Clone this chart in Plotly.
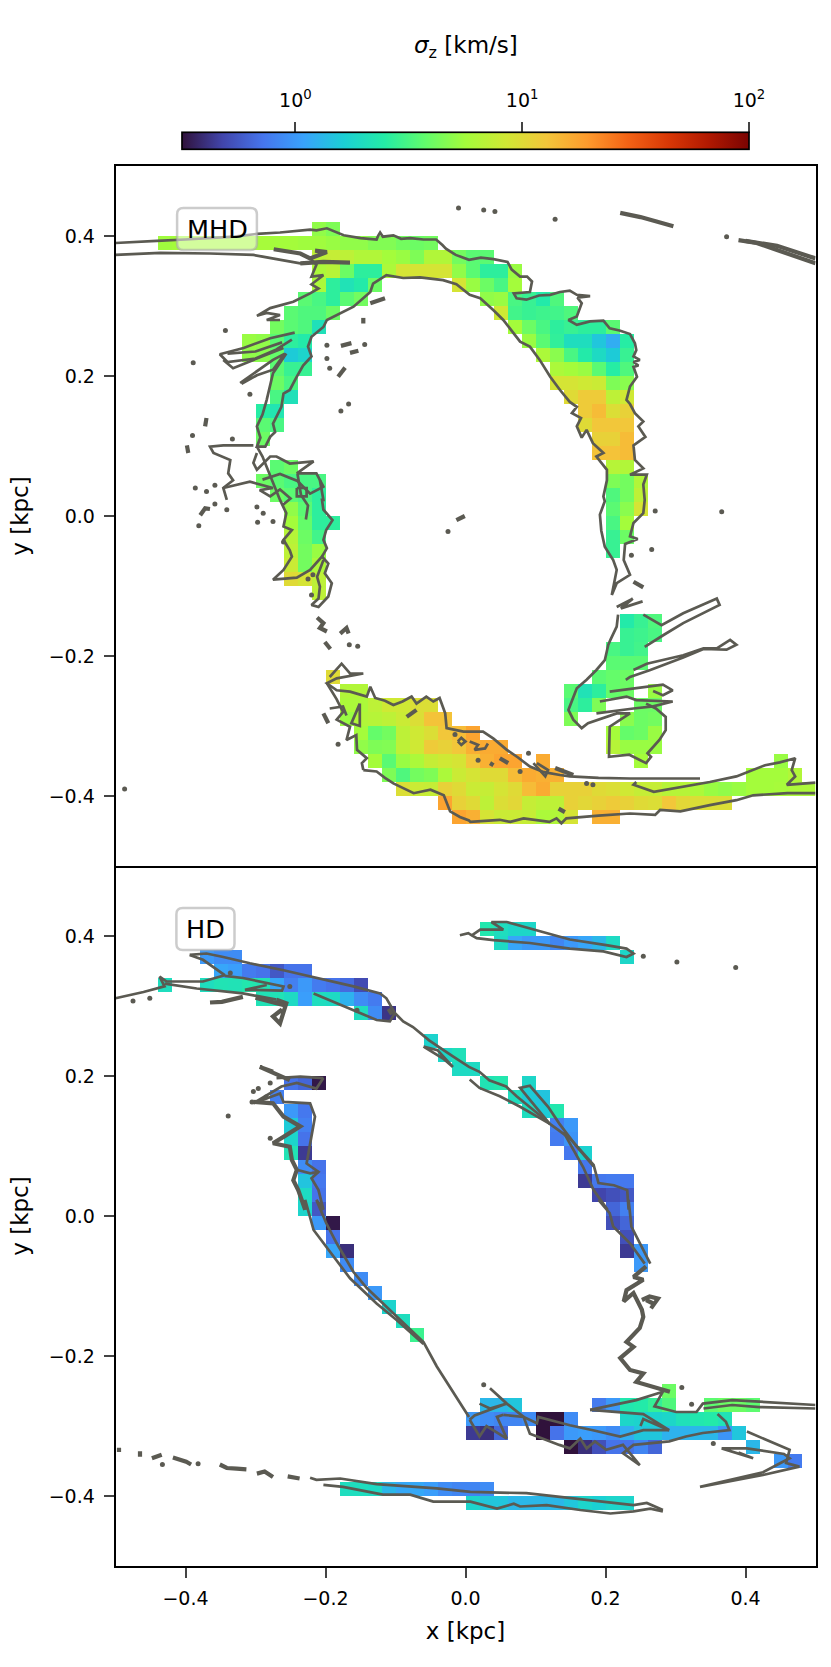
import numpy as np
import plotly.graph_objects as go
from plotly.subplots import make_subplots

# grid cells: (top edge of row in pc, left edge of first cell in pc, log10 sigma_z per cell)
mhd_cells = [
    (420, -220, [.7, .65]),
    (400, -440, [.74, .75, .76, .76, .76, .76, .76, .76, .75, .75, .74, .74, .72, .7, .7, .66, .66, .62, .6, .62]),
    (380, -220, [.85, .88, .85, .8, .8, .75, .72, .65, .8, .8, .62, .55, .55]),
    (360, -220, [.78, .82, .6, .42, .42, .78, .95, .95, .95, .95, .7, .55, .42, .42, .72]),
    (340, -220, [.78, .42, .33, .38, .6]),
    (340, -20, [.95, .72, .6, .5, .75]),
    (320, -240, [.55, .5, .42, .55, .62]),
    (320, 20, [.7, .72, .5, .45, .38, .52]),
    (300, -260, [.55, .52, .52, .6]),
    (300, 40, [.92, .48, .45, .47, .48, .52]),
    (280, -280, [.62, .55, .52, .32]),
    (280, 60, [.75, .6, .5, .42, .45, .42, .42, .55]),
    (260, -320, [.72, .7, .55, .42, .38]),
    (260, 80, [.72, .55, .43, .3, .3, .18, .08, .4]),
    (240, -320, [.7, .68, .58, .2, .25]),
    (240, 100, [.78, .68, .5, .38, .28, .2, .45]),
    (220, -280, [.55, .45, .45]),
    (220, 120, [.78, .75, .72, .55, .4, .52]),
    (200, -280, [.6, .5]),
    (200, 120, [.95, .95, .92, .9, .65, .68]),
    (180, -280, [.5, .32]),
    (180, 140, [1.0, 1.08, 1.08, .85, .92]),
    (160, -300, [.4, .35]),
    (160, 160, [1.08, 1.15, .98, 1.05]),
    (140, -300, [.55, .5]),
    (140, 160, [1.0, 1.1, 1.1, 1.1]),
    (120, -300, [.6]),
    (120, 180, [1.05, 1.05, 1.15]),
    (100, 180, [1.12, 1.12, 1.15]),
    (80, -280, [.55, .6]),
    (80, 200, [.82, .8]),
    (60, -300, [.6, .55, .5, .5, .5]),
    (60, 200, [.65, .62, .8]),
    (40, -280, [.6, .55, .5, .42]),
    (40, 200, [.52, .62, .85]),
    (20, -260, [.7, .55, .42]),
    (20, 200, [.55, .68, .95]),
    (0, -260, [.75, .58, .42, .42]),
    (0, 200, [.5, .75]),
    (-20, -260, [.82, .6, .48]),
    (-20, 200, [.45, .6]),
    (-40, -260, [.85, .62, .72]),
    (-40, 200, [.45]),
    (-60, -260, [.9, .62, .78]),
    (-80, -260, [1.0, .95, .85]),
    (-100, -220, [.85]),
    (-140, 220, [.38, .45, .52]),
    (-160, 220, [.45, .47, .5]),
    (-180, 200, [.5, .45, .48]),
    (-200, 200, [.55, .55, .55]),
    (-220, 180, [.55, .58, .6]),
    (-220, -200, [1.0]),
    (-240, 140, [.55, .33, .42, .58, .6, None, .72]),
    (-240, -180, [.8, .8]),
    (-260, 140, [.5, .42, .65, None, None, .6, .6]),
    (-260, -180, [.78, .78, .85, .92, .92, .98, .98]),
    (-280, 140, [.65, None, None, None, .68, .6, .62]),
    (-280, -180, [.72, .8, .82, .85, .9, .98, 1.12, 1.12]),
    (-300, 200, [.75, .58, .6, .72]),
    (-300, -160, [.75, .58, .62, .85, .92, .98, 1.1, 1.15, 1.25]),
    (-320, 200, [.82, .72, .72, .72]),
    (-320, -160, [.7, .65, .66, .85, .92, 1.08, 1.05, 1.1, 1.2, 1.22, 1.22]),
    (-340, 240, [.75]),
    (-340, 440, [.72]),
    (-340, -140, [.75, .55, .72, .78, .88, .92, .95, 1.1, 1.2, 1.25, 1.25, None, 1.22]),
    (-360, -120, [.65, .52, .62, .65, .78, .9, .95, 1.0, 1.0, 1.15, 1.22, 1.2, 1.2]),
    (-360, 400, [.75, .75, .75, .8]),
    (-380, -100, [.98, .9, .88, 1.05, 1.0, .9, .88, .95, 1.0, 1.15, 1.22, 1.05, 1.05, 1.05, 1.0, .98, .92, .88,
                  .88, .82, .82, .78, .72, .7, .72, .75, .75, .76, .78, .78]),
    (-400, -40, [1.25, 1.05, 1.0, .85, .98, 1.02, .88, .85, .85, 1.05, 1.02, 1.05, 1.08, 1.05, 1.0, .98, 1.1,
                 1.02, .98, .98, .98]),
    (-420, -20, [1.25, 1.2, .95, .9, .9, .88, .78, .8, .95, None, 1.2, 1.2]),
]

hd_cells = [
    (420, 20, [.36, .3, .26, .26]),
    (400, 40, [.28, .05, 0, 0, -.08, 0, .05, .12, .28]),
    (380, -380, [0, -.05, -.05]),
    (380, 220, [.26]),
    (360, -360, [.05, .02, -.12, -.15, -.25, -.15, -.15]),
    (340, -440, [.3]),
    (340, -380, [.3, .34, .33, .36, .34, .05, -.1, 0, -.12, -.15, -.18, -.3]),
    (320, -300, [.33, .33, .28, .02, .3, .28, .1, -.05, -.12]),
    (300, -160, [.3, -.05, -.38]),
    (260, -60, [.24]),
    (240, -40, [.26, .32]),
    (220, -20, [.28, .28]),
    (200, -260, [-.15, -.2, -.48]),
    (200, 20, [.34, .36, None, .26]),
    (180, -280, [-.1]),
    (180, 60, [.3, .2, .17]),
    (160, -260, [0, -.13]),
    (160, 80, [.3, .2, .36]),
    (140, -260, [.2, -.1]),
    (140, 120, [-.1, 0]),
    (120, -260, [.25, -.15]),
    (120, 120, [-.12, -.02]),
    (100, -260, [.34, -.36]),
    (100, 140, [-.13, .23]),
    (80, -240, [-.05, -.15]),
    (80, 160, [-.13]),
    (60, -240, [.17, -.13]),
    (60, 160, [-.36, -.13, -.12, -.13]),
    (40, -240, [.28, -.15]),
    (40, 180, [-.32, -.28, -.25]),
    (20, -240, [.25, -.25]),
    (20, 200, [-.2, -.1]),
    (0, -220, [0, -.48]),
    (0, 200, [-.28, -.2]),
    (-20, -200, [-.15]),
    (-20, 220, [-.28]),
    (-40, -200, [.05, -.4]),
    (-40, 220, [-.36, 0]),
    (-60, -180, [-.05]),
    (-60, 240, [0]),
    (-80, -160, [-.05]),
    (-100, -140, [0]),
    (-120, -120, [.24]),
    (-140, -100, [.3]),
    (-160, -80, [.46]),
    (-240, 280, [.6]),
    (-260, 20, [.12, .12, .18]),
    (-260, 180, [-.12, 0, .36, .38, .44, .52]),
    (-260, 340, [.56, .6, .6, .56]),
    (-280, 0, [0, -.05, -.08, -.08, -.05, -.5, -.5, -.05]),
    (-280, 220, [.26, .24, .24, .26, .32, .36, .38, .33]),
    (-300, 0, [-.36, -.4, -.2]),
    (-300, 100, [-.5, -.15, 0, .02, 0, -.05, .08, .18, .18, .1, .1, .12, .12, -.02, .18]),
    (-320, 140, [-.5, -.4, -.28, -.15, -.15, -.08, -.2]),
    (-320, 400, [.12]),
    (-340, 440, [0, -.12]),
    (-380, -180, [.3, .3, .28, .12, .06, .06, .02, -.05, -.08, -.08, -.05]),
    (-400, 0, [.25, .18, .18, .12, .12, .12, .12, .18, .25, .22, .25, .25]),
]

# contour traces in pc
mhd_lines = [
    [(-500, 390), (-470, 391), (-441, 393), (-400, 395), (-365, 397), (-330, 399), (-298, 403), (-265, 405),
     (-222, 409), (-213, 408), (-198, 411), (-188, 407), (-174, 401), (-150, 397), (-127, 395), (-125, 400),
     (-122, 405), (-118, 399), (-103, 401), (-92, 396), (-79, 397), (-60, 395), (-42, 395), (-33, 387), (-28, 382),
     (-14, 373), (5, 366), (22, 369), (40, 367), (60, 363), (66, 352), (78, 342), (88, 342), (95, 335), (92, 320),
     (69, 318), (73, 311), (87, 309), (105, 315), (121, 316), (135, 320), (149, 322), (159, 316), (178, 314),
     (160, 312), (166, 304), (159, 285), (147, 280), (159, 273), (178, 278), (197, 279), (206, 268), (220, 265),
     (235, 260), (242, 247), (244, 237), (240, 228), (249, 223), (240, 220), (247, 215), (240, 213), (245, 199),
     (235, 185), (230, 166), (235, 160), (242, 147), (254, 135), (247, 128), (257, 113), (240, 101), (242, 80),
     (254, 68), (235, 59), (259, 59), (254, 45), (256, 23), (254, 4), (240, -10), (235, -29), (246, -33), (228, -40),
     (226, -63), (235, -84), (216, -96), (209, -113), (216, -77), (211, -63), (199, -44), (194, -21), (192, 2),
     (199, 21), (197, 28), (202, 51), (202, 66), (187, 85), (197, 90), (182, 104), (173, 123), (166, 112), (159, 128),
     (165, 140), (152, 147), (159, 156), (149, 163), (135, 180), (121, 199), (106, 223), (92, 242), (78, 249),
     (54, 280), (40, 294), (21, 311), (6, 316), (-13, 331), (-32, 337), (-65, 341), (-89, 340), (-113, 344),
     (-132, 332), (-136, 320), (-160, 299), (-198, 280), (-203, 270), (-220, 256), (-225, 242), (-220, 228),
     (-232, 215), (-241, 199), (-251, 180), (-260, 175), (-263, 156), (-275, 132), (-272, 120), (-279, 113),
     (-286, 99), (-298, 99), (-293, 112), (-298, 128), (-290, 145), (-284, 166), (-280, 185), (-275, 204),
     (-256, 232)],
    [(-500, 373), (-436, 376), (-365, 375), (-303, 373), (-270, 367), (-236, 361), (-203, 363), (-165, 362)],
    [(-222, 368), (-213, 359), (-220, 342), (-203, 344), (-220, 331), (-210, 325), (-222, 318), (-246, 306),
     (-279, 297), (-298, 286), (-284, 290), (-265, 287), (-284, 280), (-265, 280)],
    [(-244, 262), (-279, 254), (-317, 240), (-351, 231), (-340, 220), (-300, 225), (-270, 238), (-248, 252)],
    [(-346, 223), (-332, 211), (-303, 223), (-260, 240)],
    [(-340, 232), (-300, 235), (-262, 248)],
    [(-322, 190), (-294, 209), (-275, 223), (-258, 232), (-275, 209), (-298, 201), (-320, 189)],
    [(-303, 101), (-327, 101), (-346, 101), (-365, 99), (-360, 90), (-336, 80), (-339, 61), (-332, 51), (-346, 40),
     (-341, 23)],
    [(-298, 90), (-303, 76), (-298, 66), (-279, 85), (-270, 85), (-251, 75), (-217, 78), (-241, 61), (-213, 61),
     (-203, 42), (-222, 32), (-240, 50), (-265, 60), (-290, 52)],
    [(-346, 40), (-308, 49), (-275, 40), (-294, 37), (-279, 28), (-265, 38), (-250, 25), (-262, 15)],
    [(-241, 40), (-227, 40), (-227, 28), (-241, 28), (-241, 40)],
    [(-298, 99), (-290, 85), (-265, 23), (-256, 4), (-260, -15), (-248, -20), (-260, -34), (-251, -49), (-248, -58),
     (-260, -77), (-275, -91), (-241, -88), (-222, -77), (-205, -58), (-196, -68), (-201, -82), (-191, -96),
     (-196, -115), (-210, -130), (-220, -127), (-210, -118), (-208, -101), (-212, -87), (-203, -63)],
    [(-208, 51), (-203, 23), (-205, 23), (-203, 9), (-190, -6), (-199, -20), (-203, -34), (-198, -46), (-205, -58)],
    [(-240, 60), (-235, 30), (-225, 15), (-228, -5)],
    [(-194, -230), (-177, -211), (-165, -225), (-146, -225), (-184, -232), (-198, -239), (-184, -249), (-165, -251),
     (-141, -258), (-136, -244), (-129, -260), (-115, -264), (-103, -270), (-90, -265), (-77, -258), (-70, -268),
     (-56, -258), (-46, -265), (-37, -260), (-29, -282), (-27, -303), (-3, -308), (25, -308), (40, -318), (59, -334),
     (75, -345), (92, -358), (112, -366), (135, -370), (149, -372), (190, -374), (235, -375), (335, -375)],
    [(244, -380), (240, -384), (269, -394), (311, -387), (349, -380), (387, -372), (411, -363), (428, -356),
     (449, -352), (471, -346), (466, -363), (471, -372), (459, -384), (500, -381)],
    [(-146, -363), (-127, -365), (-115, -374), (-103, -382), (-74, -396), (-62, -393), (-50, -391), (-31, -399),
     (-22, -422), (-8, -430), (5, -435), (7, -437), (49, -434), (64, -437), (83, -432), (120, -437), (130, -432),
     (137, -439), (144, -432), (190, -428), (235, -425), (271, -427), (278, -420), (307, -422), (349, -413),
     (387, -406), (411, -399), (460, -396), (500, -396)],
    [(-146, -363), (-148, -353), (-141, -346), (-155, -334), (-156, -313), (-170, -320), (-165, -301), (-184, -291),
     (-175, -280), (-184, -262), (-198, -239)],
    [(-194, -275), (-175, -272), (-170, -285)],
    [(-151, -268), (-163, -296), (-151, -300), (-151, -268)],
    [(-11, -322), (-6, -317), (0, -322), (-6, -327), (-11, -322)],
    [(6, -322), (18, -327), (13, -334), (28, -332), (32, -325)],
    [(97, -353), (114, -372), (118, -363), (102, -353)],
    [(216, -130), (239, -118), (222, -132), (253, -122)],
    [(218, -141), (216, -158), (207, -177), (204, -184), (199, -206), (187, -220), (173, -234), (159, -246),
     (147, -277), (154, -291), (166, -303), (175, -296), (216, -282), (235, -282), (206, -301), (205, -344),
     (234, -341), (258, -353), (265, -344), (260, -339), (277, -320), (286, -306), (286, -287), (272, -275),
     (258, -268)],
    [(254, -141), (280, -156), (311, -139), (359, -118), (363, -127), (311, -153), (283, -170), (256, -187)],
    [(240, -220), (259, -211), (311, -199), (340, -189), (359, -189), (378, -177), (387, -184), (373, -191),
     (340, -190), (311, -202), (264, -220), (235, -230), (229, -234)],
    [(206, -251), (282, -241), (296, -249), (282, -256), (268, -250)],
    [(192, -265), (230, -258), (244, -263), (296, -265), (268, -272), (240, -275), (187, -282)],
]

mhd_streaks = [
    [(221, 433), (250, 427), (297, 414)],
    [(390, 394), (416, 390), (445, 380), (500, 361)],
    [(400, 393), (445, 386), (500, 368)],
    [(-274, 381), (-255, 378), (-236, 375), (-222, 368), (-198, 377), (-215, 379)],
    [(-236, 361), (-203, 363), (-165, 362)],
    [(-136, 304), (-115, 311)],
    [(-178, 243), (-163, 247)],
    [(-165, 233), (-153, 236)],
    [(-182, 199), (-177, 206), (-172, 212)],
    [(-212, -145), (-203, -153), (-208, -160), (-198, -165)],
    [(-179, -168), (-170, -160), (-167, -168)],
    [(-201, -180), (-193, -190)],
    [(-13, -6), (-1, 0)],
    [(240, -94), (254, -102)],
    [(-203, -282), (-196, -296)],
    [(-84, -287), (-70, -277)],
    [(35, -353), (40, -356)],
    [(49, -346), (61, -353)],
    [(128, -360), (154, -370)],
    [(133, -418), (142, -423)],
    [(-372, 128), (-370, 140)],
    [(-398, 101), (-396, 90)],
    [(-379, 1), (-372, 11), (-365, 10)],
    [(-146, 275), (-146, 283)],
]

mhd_dots = [
    (-10, 440), (26, 437), (42, 435), (128, 424), (373, 399), (-343, 265), (-389, 219), (-308, 174), (-178, 150),
    (-167, 160), (-198, 244), (-144, 245), (-198, 225), (-194, 211), (-390, 115), (-333, 110), (-386, 40), (-370, 35),
    (-358, 44), (-381, -14), (-358, 17), (-341, 9), (-298, 13), (-289, 4), (-297, -9), (-275, -8), (-260, -37),
    (-218, -84), (-225, -90), (-220, -113), (-487, -390), (-166, -184), (-154, -186), (-182, -326), (-15, -312),
    (18, -349), (78, -365), (90, -339), (173, -382), (182, -384), (266, -48), (271, 7), (237, -56), (366, 6),
    (-25, -22),
]

hd_lines = [
    [(-394, 373), (-370, 375), (-346, 370), (-308, 361), (-260, 351), (-213, 340), (-160, 328), (-122, 318),
     (-113, 311), (-101, 290), (-89, 278), (-75, 270), (-52, 251), (-18, 228), (5, 213), (20, 206), (34, 194),
     (58, 185), (73, 171), (111, 140), (120, 132), (149, 111), (183, 73), (190, 47), (212, 44), (231, 37), (233, 9),
     (233, 23), (237, -15), (249, -39), (264, -68)],
    [(-394, 373), (-375, 366), (-344, 344), (-375, 335), (-427, 335), (-437, 342), (-430, 328), (-460, 320),
     (-500, 311)],
    [(-344, 343), (-318, 340), (-260, 328), (-262, 322), (-303, 323), (-315, 323), (-284, 330)],
    [(-430, 332), (-384, 325), (-318, 318), (-270, 309)],
    [(-217, 318), (-175, 301), (-160, 294), (-127, 280), (-108, 278), (-101, 290)],
    [(-60, 242), (-32, 225), (-18, 213), (-40, 237), (-60, 242)],
    [(-8, 401), (4, 404), (9, 401), (21, 409), (54, 409), (37, 420), (59, 420), (97, 409), (149, 395), (201, 387),
     (230, 382), (240, 375), (230, 370), (197, 378), (149, 382), (92, 390), (40, 394), (16, 397), (9, 401)],
    [(120, 132), (78, 183), (92, 186), (118, 156), (134, 132), (159, 99), (183, 71)],
    [(6, 195), (20, 183), (49, 171), (78, 156), (120, 132)],
    [(140, 120), (168, 70), (183, 37), (203, 9), (190, 23), (206, 4), (211, -15), (235, -39), (256, -68)],
    [(178, -277), (221, -268), (244, -263), (282, -251), (270, -272), (301, -280), (330, -280), (339, -268),
     (381, -263), (500, -270)],
    [(178, -277), (254, -283), (291, -306), (254, -290), (250, -300)],
    [(340, -275), (381, -270), (420, -273), (500, -275)],
    [(35, -246), (59, -268), (83, -287), (102, -296), (104, -287), (149, -299), (182, -306), (221, -315), (254, -306),
     (291, -306)],
    [(54, -284), (83, -287), (92, -311), (120, -322), (134, -327), (149, -332), (164, -318), (173, -332), (185, -322),
     (201, -334), (225, -327), (249, -356), (225, -339), (240, -327), (291, -322), (315, -315), (339, -310),
     (377, -306), (372, -294), (360, -283)],
    [(402, -308), (463, -334), (458, -353), (477, -358), (425, -370), (344, -386), (335, -387), (425, -366),
     (463, -346), (455, -340), (402, -332), (366, -332), (411, -346), (390, -338)],
    [(6, -291), (20, -315), (30, -300), (59, -318), (45, -287), (54, -284)],
    [(20, -268), (35, -275), (59, -268), (13, -285), (6, -291)],
    [(-203, 197), (-213, 182), (-241, 190), (-263, 185), (-303, 161), (-265, 175), (-260, 163), (-222, 161),
     (-215, 142), (-220, 113), (-227, 75), (-210, 63), (-220, 54), (-210, 37), (-203, 9), (-213, 23), (-199, -10),
     (-184, -39), (-160, -80), (-141, -103), (-103, -139), (-60, -180), (-41, -215), (-13, -258), (5, -287)],
    [(-203, 197), (-236, 199), (-270, 197)],
    [(-229, 9), (-229, 23), (-217, -20), (-203, -39), (-184, -63), (-165, -89), (-127, -125), (-98, -149), (-60, -183)],
    [(-241, 66), (-222, 61), (-210, 63)],
    [(-222, -374), (-213, -377), (-179, -375), (-127, -383), (-41, -389), (7, -394), (87, -396), (149, -403),
     (240, -413), (259, -410), (282, -420)],
    [(-203, -384), (-175, -387), (-118, -398), (-79, -398), (-46, -408), (7, -408), (45, -418), (69, -411), (78, -415),
     (116, -413), (164, -420), (207, -425), (240, -422), (264, -418), (282, -422)],
]

hd_streaks = [
    [(-365, 305), (-348, 306), (-318, 313)],
    [(-270, 309), (-256, 304), (-265, 275), (-275, 285), (-262, 295)],
    [(-300, 312), (-270, 305), (-255, 300)],
    [(-110, 296), (-105, 288)],
    [(-251, 194), (-294, 213), (-275, 206)],
    [(-303, 163), (-275, 161), (-260, 142), (-236, 128), (-260, 113), (-275, 104), (-251, 99), (-248, 80), (-241, 66),
     (-246, 51), (-239, 37), (-229, 9)],
    [(258, -72), (240, -87), (254, -91), (230, -106), (226, -122), (240, -110), (252, -134), (254, -144), (249, -160),
     (237, -172), (230, -180), (240, -187), (221, -203), (235, -220), (254, -225), (244, -237), (273, -246),
     (292, -251)],
    [(252, -120), (263, -115), (275, -118), (265, -132)],
    [(258, -120), (268, -125)],
    [(-495, -331), (-495, -337)],
    [(-465, -336), (-465, -344)],
    [(-448, -346), (-434, -341)],
    [(-418, -345), (-399, -351), (-392, -355)],
    [(-351, -355), (-341, -360), (-327, -361), (-313, -362)],
    [(-298, -368), (-287, -365), (-275, -373)],
    [(-254, -372), (-237, -375)],
]

hd_dots = [
    (-336, 347), (-251, 328), (-155, 294), (-451, 311), (-475, 307), (254, 371), (302, 363), (386, 355), (-339, 143),
    (-303, 178), (-296, 182), (-279, 190), (-279, 111), (-433, -355), (-382, -354), (26, -241), (323, -269),
    (354, -325), (309, -245), (-305, 163), (-285, 170),
]

cb_ticks = [0, 1, 2]
cb_labels = ["10<sup>0</sup>", "10<sup>1</sup>", "10<sup>2</sup>"]
y_ticks = [-0.4, -0.2, 0.0, 0.2, 0.4]
x_ticks = [-0.4, -0.2, 0.0, 0.2, 0.4]

GREY = "#5b5a52"
FONT = "DejaVu Sans"
W, H = 831, 1667


def build_grid(cells):
    z = np.full((50, 50), np.nan)
    for y_top, x_left, vals in cells:
        j = (y_top - 20 + 500) // 20
        for k, v in enumerate(vals):
            if v is not None:
                z[j, (x_left + 500) // 20 + k] = v
    return z


def split_xy(lines):
    xs, ys = [], []
    for line in lines:
        xs += [p[0] / 1000 for p in line] + [None]
        ys += [p[1] / 1000 for p in line] + [None]
    return xs, ys


fig = make_subplots(rows=2, cols=1, shared_xaxes=True, vertical_spacing=0)
centers = (np.arange(50) * 20 - 490) / 1000

for row, cells, lines, streaks, dots in [(1, mhd_cells, mhd_lines, mhd_streaks, mhd_dots),
                                         (2, hd_cells, hd_lines, hd_streaks, hd_dots)]:
    fig.add_trace(go.Heatmap(x=centers, y=centers, z=build_grid(cells), coloraxis="coloraxis",
                             hoverongaps=False), row=row, col=1)
    for group, width in [(lines, 2.7), (streaks, 4.2)]:
        lx, ly = split_xy(group)
        fig.add_trace(go.Scatter(x=lx, y=ly, mode="lines", showlegend=False,
                                 line=dict(color=GREY, width=width)), row=row, col=1)
    fig.add_trace(go.Scatter(x=[d[0] / 1000 for d in dots], y=[d[1] / 1000 for d in dots], mode="markers",
                             marker=dict(color=GREY, size=5), showlegend=False), row=row, col=1)

# only carries the colorbar ticks, which plotly cannot put above a horizontal bar
fig.add_trace(go.Scatter(x=[], y=[], xaxis="x3", yaxis="y3", showlegend=False))

fig.update_layout(
    width=W, height=H, autosize=False,
    margin=dict(l=0, r=0, t=0, b=0, autoexpand=False),
    plot_bgcolor="white", paper_bgcolor="white",
    font=dict(family=FONT, size=19, color="black"),
    coloraxis=dict(
        colorscale="Turbo", cmin=-0.5, cmax=2,
        colorbar=dict(
            orientation="h", x=465.5 / W, xanchor="center", y=1 - 151 / H, yanchor="bottom",
            lenmode="pixels", len=567, thicknessmode="pixels", thickness=17, xpad=0, ypad=0,
            outlinewidth=1.7, outlinecolor="black", ticks="", showticklabels=False,
        ),
    ),
    xaxis3=dict(domain=[182 / W, 749 / W], range=[-0.5, 2], anchor="y3", side="top", showgrid=False, zeroline=False,
                showline=False, tickmode="array", tickvals=cb_ticks, ticktext=cb_labels, ticks="outside", ticklen=11,
                tickwidth=1.7, ticklabelstandoff=7),
    yaxis3=dict(domain=[1 - 151 / H, 1 - 134 / H], range=[0, 1], anchor="x3", visible=False),
)

panel_axes = dict(range=[-0.5, 0.5], showgrid=False, zeroline=False, showline=True, linecolor="black", linewidth=1.7)
fig.update_xaxes(domain=[115.5 / W, 815.5 / W], selector=dict(anchor="y"), **panel_axes)
fig.update_xaxes(domain=[115.5 / W, 815.5 / W], selector=dict(anchor="y2"), **panel_axes)
for row, dom in [(1, [1 - 866 / H, 1 - 166 / H]), (2, [1 - 1566 / H, 1 - 866 / H])]:
    fig.update_yaxes(domain=dom, mirror=True, tickmode="array", tickvals=y_ticks, tickformat=".1f", ticks="outside",
                     ticklen=10, tickwidth=1.7, ticklabelstandoff=5, title_text="y [kpc]", title_font_size=23,
                     title_standoff=14, row=row, col=1, **panel_axes)
fig.update_xaxes(mirror=True, ticks="", showticklabels=False, row=1, col=1)
fig.update_xaxes(tickmode="array", tickvals=x_ticks, tickformat=".1f", ticks="outside", ticklen=10, tickwidth=1.7,
                 ticklabelstandoff=4, title_text="x [kpc]", title_font_size=23, title_standoff=15, row=2, col=1)


def rounded(x0, x1, y0, y1, r=0.009):
    return (f"M {x0 + r} {y0} L {x1 - r} {y0} Q {x1} {y0} {x1} {y0 + r} L {x1} {y1 - r} Q {x1} {y1} {x1 - r} {y1} "
            f"L {x0 + r} {y1} Q {x0} {y1} {x0} {y1 - r} L {x0} {y0 + r} Q {x0} {y0} {x0 + r} {y0} Z")


for row, label, x0, x1 in [(1, "MHD", -0.412, -0.298), (2, "HD", -0.413, -0.33)]:
    fig.add_shape(type="path", path=rounded(x0, x1, 0.38, 0.44), fillcolor="rgba(255,255,255,0.5)",
                  line=dict(color="rgba(170,170,170,0.6)", width=2.5), layer="above", row=row, col=1)
    fig.add_annotation(x=(x0 + x1) / 2, y=0.41, text=label, showarrow=False, font=dict(family=FONT, size=25.5),
                       row=row, col=1)

fig.add_annotation(x=465.5 / W, y=1 - 30 / H, xref="paper", yref="paper", text="<i>σ</i><sub>z</sub> [km/s]",
                   showarrow=False, font=dict(family=FONT, size=23))

fig.write_html("out.html", config={"displayModeBar": False}, post_script="document.body.style.margin = '0';")
